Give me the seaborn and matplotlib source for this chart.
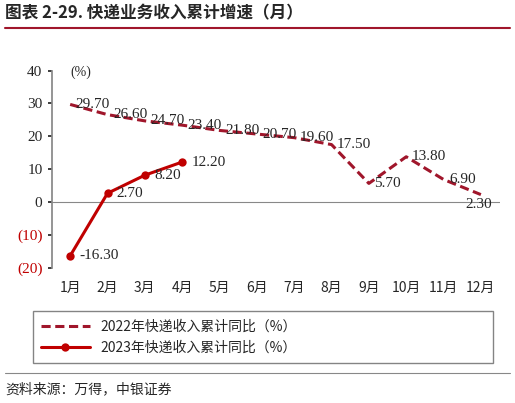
import matplotlib
matplotlib.use("Agg")
import matplotlib.pyplot as plt
import seaborn as sns
import pandas as pd

months = ["1月", "2月", "3月", "4月", "5月", "6月", "7月", "8月", "9月", "10月", "11月", "12月"]
growth_2022 = [29.70, 26.60, 24.70, 23.40, 21.80, 20.70, 19.60, 17.50, 5.70, 13.80, 6.90, 2.30]
growth_2023 = [-16.30, 2.70, 8.20, 12.20]
y_ticks = [-20, -10, 0, 10, 20, 30, 40]

sns.set_theme(style="white")
plt.rcParams["font.family"] = ["Noto Sans CJK SC", "DejaVu Sans"]
NUM_FONT = ["Liberation Serif", "DejaVu Serif"]

RED = "#c00000"
DARK = "#a0162b"

df22 = pd.DataFrame({"x": range(12), "y": growth_2022})
df23 = pd.DataFrame({"x": range(4), "y": growth_2023})

fig = plt.figure(figsize=(5.15, 4.03), dpi=100)
ax = fig.add_axes([0.10, 0.335, 0.87, 0.49])

sns.lineplot(data=df22, x="x", y="y", ax=ax, color=DARK, lw=2.2,
             linestyle=(0, (3, 1.5)), label="2022年快递收入累计同比（%）")
sns.lineplot(data=df23, x="x", y="y", ax=ax, color=RED, lw=2.2, marker="o",
             markersize=6, markeredgewidth=0, label="2023年快递收入累计同比（%）")

for i, v in enumerate(growth_2022):
    if i == 11:
        ax.text(i - 0.05, v - 3, f"{v:.2f}", fontsize=11, va="center", ha="center",
                family=NUM_FONT)
    else:
        ax.text(i + 0.15, v, f"{v:.2f}", fontsize=11, va="center", ha="left",
                family=NUM_FONT)
for i, v in enumerate(growth_2023):
    ax.text(i + 0.25, v, f"{v:.2f}", fontsize=11, va="center", ha="left", family=NUM_FONT)

ax.set_xlim(-0.5, 11.5)
ax.set_ylim(-20, 40)
ax.set_xticks(range(12))
ax.set_xticklabels(months, fontsize=10)
ax.set_yticks(y_ticks)
ax.set_yticklabels([f"({-t})" if t < 0 else str(t) for t in y_ticks], fontsize=11,
                   family=NUM_FONT)
for lab, t in zip(ax.get_yticklabels(), y_ticks):
    if t < 0:
        lab.set_color(RED)
ax.set_xlabel("")
ax.set_ylabel("")
ax.text(0.0, 38.5, "(%)", fontsize=10, family=NUM_FONT)
ax.tick_params(axis="y", length=3, left=True)
for s in ["top", "right", "bottom"]:
    ax.spines[s].set_visible(False)
ax.spines["left"].set_color("#888888")
ax.axhline(0, color="#888888", lw=0.8, zorder=0)

handles, labels = ax.get_legend_handles_labels()
ax.get_legend().remove()
fig.legend(handles, labels, loc="upper left", bbox_to_anchor=(0.05, 0.245, 0.92, 0.0),
           ncol=1, fontsize=10, frameon=True, edgecolor="#666666", fancybox=False,
           borderpad=0.6, handlelength=3.5, mode="expand")

fig.text(0.01, 0.955, "图表 2-29. 快递业务收入累计增速（月）", fontsize=12, weight="bold")
fig.add_artist(plt.Line2D([0.01, 0.99], [0.93, 0.93], color=DARK, lw=1.5))
fig.text(0.01, 0.025, "资料来源：万得，中银证券", fontsize=10, style="italic")
fig.add_artist(plt.Line2D([0.01, 0.99], [0.075, 0.075], color="#888888", lw=0.8))

fig.savefig("out.png", dpi=100)
